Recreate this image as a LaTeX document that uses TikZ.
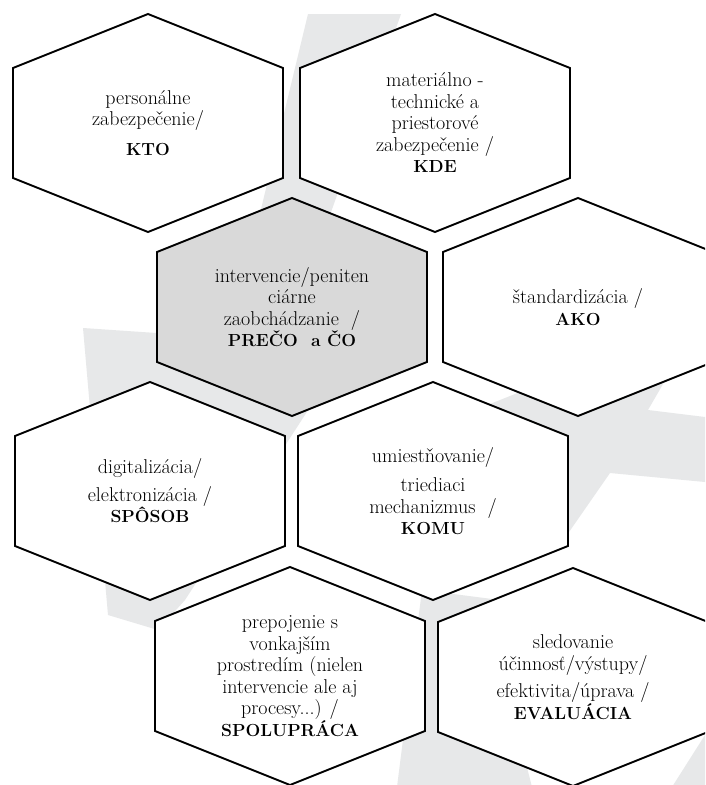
\documentclass[tikz,border=0pt]{standalone}
\usepackage{fontspec}
\newcommand{\bigb}[1]{\textbf{\fontsize{17.5}{21.5}\selectfont #1}}
\begin{document}
\begin{tikzpicture}[x=1pt,y=-1pt,
  hexline/.style={draw=black,line width=1.9pt,line join=miter},
  lbl/.style={align=center,inner sep=0pt,font=\fontsize{20}{21.5}\selectfont},
  wm/.style={fill=wmgrey,draw=none},
  pics/hexa/.style={code={\draw[hexline,fill=#1] (-135,-55) -- (0,-109) -- (135,-55) -- (135,55) -- (0,109) -- (-135,55) -- cycle;}}
]
\definecolor{wmgrey}{HTML}{E7E8E9}
\definecolor{hexgrey}{HTML}{D9D9D9}
\useasboundingbox (0,0) rectangle (705,785);
\clip (0,0) rectangle (705,785);
\fill[white] (0,0) rectangle (705,785);
% watermark (approximate)
\fill[wm] (308,14) -- (401,14) -- (300,300) -- (360,330) -- (185,600) -- (158,630) -- (108,615) -- (83,328) -- (230,338) -- cycle;
\fill[wm] (705,417) -- (648,410) -- (700,320) -- (450,420) -- (560,545) -- (610,473) -- (705,482) -- cycle;
\fill[wm] (422,590) -- (397,787) -- (532,787) -- (520,740) -- (500,600) -- cycle;
\fill[wm] (705,735) -- (705,787) -- (672,787) -- cycle;
% hexagons
\pic at (148,123) {hexa=white};
\pic at (435,123) {hexa=white};
\pic at (292,307) {hexa=hexgrey};
\pic at (578,307) {hexa=white};
\pic at (150,491) {hexa=white};
\pic at (433,491) {hexa=white};
\pic at (290,676) {hexa=white};
\pic at (573,677) {hexa=white};
% labels
\node[lbl] (kto) at (148,123) {personálne\\zabezpečenie/\\[8pt]\bigb{KTO}};
\node[lbl] (kde) at (435,123) {materiálno -\\technické a\\priestorové\\zabezpečenie /\\\bigb{KDE}};
\node[lbl] (preco) at (292,307) {intervencie/peniten\\ciárne\\zaobchádzanie \ /\\\bigb{PREČO\ \ a ČO}};
\node[lbl] (ako) at (578,307) {štandardizácia /\\\bigb{AKO}};
\node[lbl] (sposob) at (150,491) {digitalizácia/\\[6pt]elektronizácia /\\\bigb{SPÔSOB}};
\node[lbl] (komu) at (433,491) {umiestňovanie/\\[8pt]triediaci\\mechanizmus \ /\\\bigb{KOMU}};
\node[lbl] (spolu) at (290,676) {prepojenie s\\vonkajším\\prostredím (nielen\\intervencie ale aj\\procesy...) /\\\bigb{SPOLUPRÁCA}};
\node[lbl] (eval) at (573,677) {sledovanie\\účinnosť/výstupy/\\[6pt]efektivita/úprava /\\\bigb{EVALUÁCIA}};
\end{tikzpicture}
\end{document}
